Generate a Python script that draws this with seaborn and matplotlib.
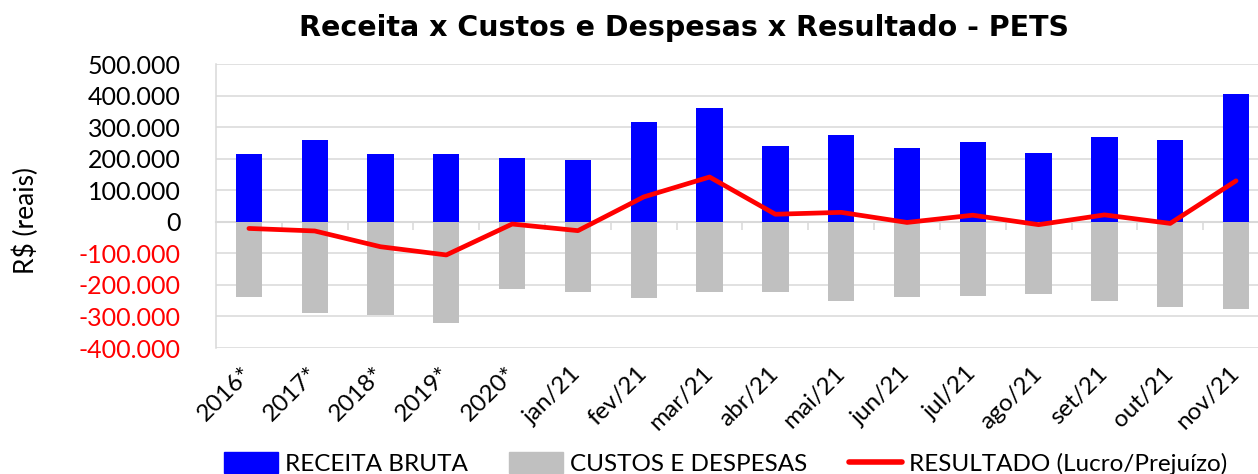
import numpy as np
import matplotlib
matplotlib.use("Agg")
import matplotlib.pyplot as plt
import seaborn as sb
from matplotlib.patches import Patch
from matplotlib.lines import Line2D

# dados
categorias = ['2016*', '2017*', '2018*', '2019*', '2020*', 'jan/21', 'fev/21', 'mar/21',
              'abr/21', 'mai/21', 'jun/21', 'jul/21', 'ago/21', 'set/21', 'out/21', 'nov/21']
receita = [216000, 258000, 214000, 214000, 201000, 196000, 315000, 362000,
           241000, 276000, 234000, 254000, 217000, 270000, 259000, 404000]
custos = [-239000, -289000, -295000, -320000, -212000, -224000, -243000, -221000,
          -221000, -250000, -239000, -236000, -228000, -252000, -269000, -276000]
resultado = [-21000, -29000, -79000, -105000, -7000, -28000, 79000, 142000,
             24000, 30000, -2000, 21000, -9000, 22000, -5000, 130000]
y_ticks = [500000, 400000, 300000, 200000, 100000, 0, -100000, -200000, -300000, -400000]

titulo = "Receita x Custos e Despesas x Resultado - PETS"
nomes = ["RECEITA BRUTA", "CUSTOS E DESPESAS", "RESULTADO (Lucro/Prejuízo)"]

sb.set_style("white")
plt.rcParams['font.family'] = ['Lato', 'DejaVu Sans']
plt.rcParams['text.color'] = 'black'
plt.rcParams['axes.labelcolor'] = 'black'
plt.rcParams['xtick.color'] = 'black'
plt.rcParams['ytick.color'] = 'black'
grid_c = '#d9d9d9'

fig = plt.figure(figsize=(12.58, 4.74), dpi=100)
ax = fig.add_axes([0.1717, 0.2658, 0.8370, 0.599])

sb.barplot(x=categorias, y=receita, color='#0000FF', saturation=1, width=0.4,
           errorbar=None, ax=ax, linewidth=0)
sb.barplot(x=categorias, y=custos, color='#C0C0C0', saturation=1, width=0.4,
           errorbar=None, ax=ax, linewidth=0)
sb.lineplot(x=np.arange(len(categorias)), y=resultado, color='#FF0000', lw=3.4,
            ax=ax, zorder=4, sort=False)
if ax.get_legend() is not None:
    ax.get_legend().remove()

ax.set_xlim(-0.5, len(categorias) - 0.5)
ax.set_ylim(-400000, 500000)
ax.set_yticks(y_ticks)
ax.set_yticklabels([f"{v:,.0f}".replace(',', '.') for v in y_ticks])
for lab, v in zip(ax.get_yticklabels(), y_ticks):
    lab.set_color('#FF0000' if v < 0 else 'black')
ax.tick_params(axis='y', length=6.5, width=1.1, color=grid_c, pad=19, labelsize=18)
ax.tick_params(axis='x', length=0, pad=16, labelsize=17.5, labelcolor='black')
plt.setp(ax.get_xticklabels(), rotation=45, ha='right', va='center', rotation_mode='anchor')
ax.set_axisbelow(True)
ax.yaxis.grid(True, color=grid_c, lw=1.1)
for s in ['top', 'right', 'bottom']:
    ax.spines[s].set_visible(False)
ax.spines['left'].set_color(grid_c)
ax.spines['left'].set_linewidth(1.1)
ax.set_xlabel('')
ax.set_ylabel('R$ (reais)', fontsize=19, color='black')
ax.yaxis.set_label_coords(-0.168, 0.45)

# eixo das categorias cruzando em zero
sec = ax.secondary_xaxis(4 / 9)
sec.set_xticks(np.arange(len(categorias)) + 0.5)
sec.tick_params(axis='x', length=6, width=1.1, color=grid_c, labelbottom=False, labeltop=False)
sec.spines['bottom'].set_color(grid_c)
sec.spines['bottom'].set_linewidth(1.5)

fig.text(0.544, 0.94, titulo, ha='center', va='center', fontsize=20.5,
         fontweight='bold', family='DejaVu Sans', color='black')

handles = [Patch(color='#0000FF'), Patch(color='#C0C0C0'),
           Line2D([0], [0], color='#FF0000', lw=4)]
fig.legend(handles, nomes, loc='center', bbox_to_anchor=(0.577, 0.022), ncol=3,
           frameon=False, fontsize=17.5, handlelength=2.2, handleheight=0.9,
           handletextpad=0.3, columnspacing=1.7, labelcolor='black')

fig.savefig('out.png', dpi=100)
